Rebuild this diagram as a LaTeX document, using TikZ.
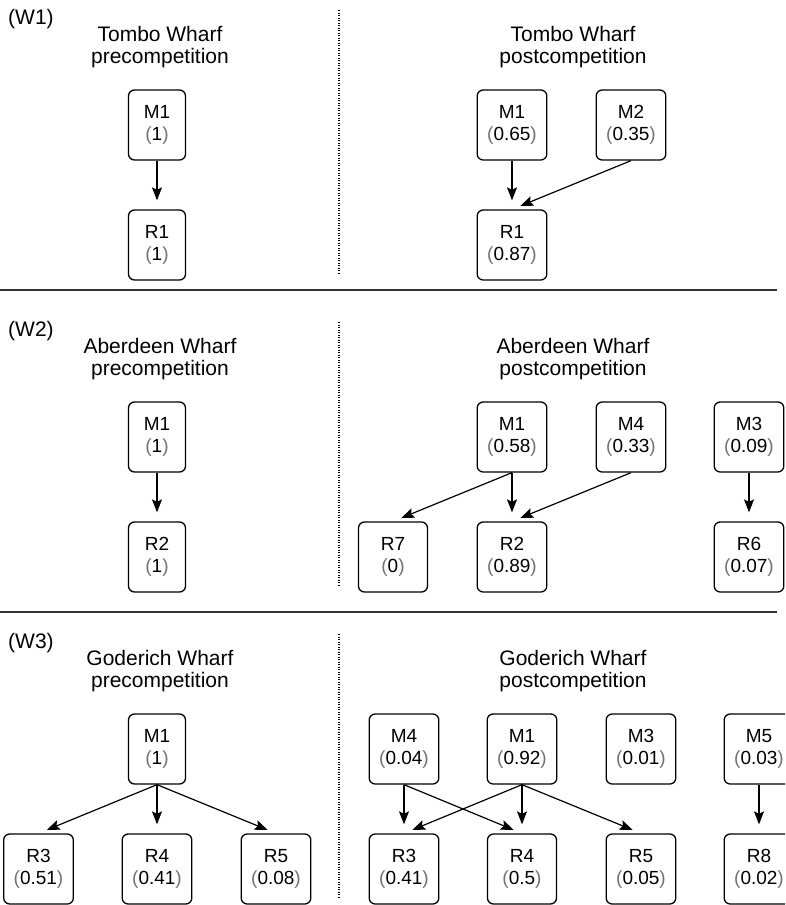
\documentclass[tikz,border=0pt]{standalone}
\usepackage{fontspec}
\setmainfont{Liberation Sans}
\usetikzlibrary{arrows.meta}
\newcommand{\pval}[1]{\textcolor{black!55}{(}#1\textcolor{black!55}{)}}
\begin{document}
\begin{tikzpicture}[x=1pt, y=-1pt,
    box/.style={draw, rounded corners=6pt, line width=1.3pt, minimum width=69pt,
      minimum height=70pt, inner xsep=10pt, align=center, font=\fontsize{19}{22}\selectfont},
    narrow/.style={minimum width=57pt},
    title/.style={align=center, font=\fontsize{21}{22}\selectfont},
    tag/.style={anchor=base west, inner sep=0pt, font=\fontsize{21}{22}\selectfont},
    link/.style={-{Stealth[length=13pt,width=10pt,inset=2.5pt]}, line width=1.2pt, shorten >=9pt},
    divider/.style={line width=1.2pt, dash pattern=on 1.2pt off 1.3pt},
    rule/.style={line width=2pt, black!80}]
  \clip (0,0) rectangle (785,905);

  \begin{scope}
    \node[tag] (w1tag) at (8,24) {(W1)};
    \node[title] (w1pre) at (160,47) {Tombo Wharf\\precompetition};
    \node[title] (w1post) at (573,47) {Tombo Wharf\\postcompetition};
    \node[box, narrow] (w1am1) at (157,125) {M1\\\pval{1}};
    \node[box, narrow] (w1ar1) at (157,245) {R1\\\pval{1}};
    \node[box] (w1bm1) at (512,125) {M1\\\pval{0.65}};
    \node[box] (w1bm2) at (631,125) {M2\\\pval{0.35}};
    \node[box] (w1br1) at (512,245) {R1\\\pval{0.87}};
    \draw[link] (w1am1.south) -- (w1ar1.north);
    \draw[link] (w1bm1.south) -- (w1br1.north);
    \draw[link] (w1bm2.south) -- (w1br1.north);
    \draw[divider] (339,10) -- (339,273);
    \draw[rule] (0,290) -- (777,290);
  \end{scope}

  \begin{scope}[yshift=-312pt]
    \node[tag] (w2tag) at (8,24) {(W2)};
    \node[title] (w2pre) at (160,47) {Aberdeen Wharf\\precompetition};
    \node[title] (w2post) at (573,47) {Aberdeen Wharf\\postcompetition};
    \node[box, narrow] (w2am1) at (157,125) {M1\\\pval{1}};
    \node[box, narrow] (w2ar2) at (157,245) {R2\\\pval{1}};
    \node[box] (w2bm1) at (512,125) {M1\\\pval{0.58}};
    \node[box] (w2bm4) at (631,125) {M4\\\pval{0.33}};
    \node[box] (w2bm3) at (749,125) {M3\\\pval{0.09}};
    \node[box] (w2br7) at (393,245) {R7\\\pval{0}};
    \node[box] (w2br2) at (512,245) {R2\\\pval{0.89}};
    \node[box] (w2br6) at (749,245) {R6\\\pval{0.07}};
    \draw[link] (w2am1.south) -- (w2ar2.north);
    \draw[link] (w2bm1.south) -- (w2br7.north);
    \draw[link] (w2bm1.south) -- (w2br2.north);
    \draw[link] (w2bm4.south) -- (w2br2.north);
    \draw[link] (w2bm3.south) -- (w2br6.north);
    \draw[divider] (339,10) -- (339,273);
    \draw[rule] (0,300) -- (777,300);
  \end{scope}

  \begin{scope}[yshift=-624pt]
    \node[tag] (w3tag) at (8,24) {(W3)};
    \node[title] (w3pre) at (160,47) {Goderich Wharf\\precompetition};
    \node[title] (w3post) at (573,47) {Goderich Wharf\\postcompetition};
    \node[box, narrow] (w3am1) at (157,125) {M1\\\pval{1}};
    \node[box] (w3ar3) at (38.5,245) {R3\\\pval{0.51}};
    \node[box] (w3ar4) at (157,245) {R4\\\pval{0.41}};
    \node[box] (w3ar5) at (276,245) {R5\\\pval{0.08}};
    \node[box] (w3bm4) at (404,125) {M4\\\pval{0.04}};
    \node[box] (w3bm1) at (522,125) {M1\\\pval{0.92}};
    \node[box] (w3bm3) at (641,125) {M3\\\pval{0.01}};
    \node[box] (w3bm5) at (759,125) {M5\\\pval{0.03}};
    \node[box] (w3br3) at (404,245) {R3\\\pval{0.41}};
    \node[box] (w3br4) at (522,245) {R4\\\pval{0.5}};
    \node[box] (w3br5) at (641,245) {R5\\\pval{0.05}};
    \node[box] (w3br8) at (759,245) {R8\\\pval{0.02}};
    \draw[link] (w3am1.south) -- (w3ar3.north);
    \draw[link] (w3am1.south) -- (w3ar4.north);
    \draw[link] (w3am1.south) -- (w3ar5.north);
    \draw[link] (w3bm4.south) -- (w3br3.north);
    \draw[link] (w3bm4.south) -- (w3br4.north);
    \draw[link] (w3bm1.south) -- (w3br3.north);
    \draw[link] (w3bm1.south) -- (w3br4.north);
    \draw[link] (w3bm1.south) -- (w3br5.north);
    \draw[link] (w3bm5.south) -- (w3br8.north);
    \draw[divider] (339,10) -- (339,274);
  \end{scope}
\end{tikzpicture}
\end{document}
